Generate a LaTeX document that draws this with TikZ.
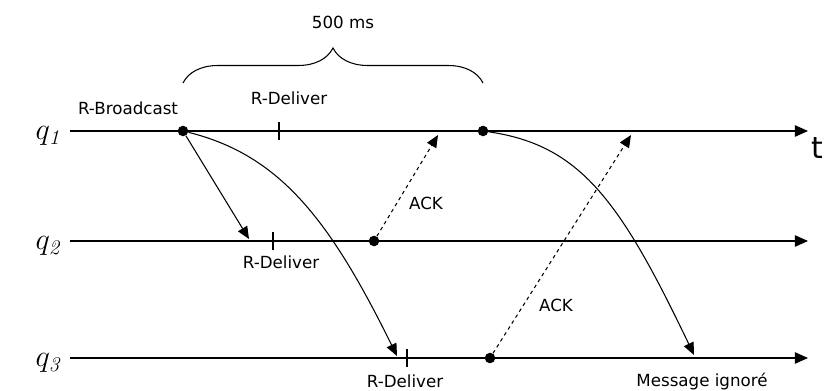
\documentclass[tikz,border=0pt]{standalone}
\usepackage{fontspec}
\setsansfont{DejaVu Sans}
\usepackage{tikz}
\usetikzlibrary{arrows.meta, decorations.pathreplacing}
\tikzset{
    time_line/.style={
        -{Triangle[length=7.5pt, width=6.5pt]}, draw=black, line width=0.8pt
    },
    msg_arrow/.style={
        -{Triangle[length=7pt, width=6pt]}, draw=black, line width=0.6pt
    },
    ack_arrow/.style={
        -{Triangle[length=7pt, width=6pt]}, draw=black, line width=0.6pt,
        dash pattern=on 2pt off 2pt
    },
    evt_dot/.style={
        circle, fill=black, inner sep=0pt, minimum size=6pt
    },
    tick_mark/.style={
        draw=black, line width=0.6pt
    },
    lbl/.style={
        font=\sffamily\fontsize{9.5}{11}\selectfont, text=black, inner sep=1pt
    },
    proc_lbl/.style={
        font=\fontsize{17}{19}\selectfont, inner sep=0pt
    }
}

\begin{document}
\begin{tikzpicture}[x=0.02cm, y=-0.02cm]
    \useasboundingbox (0,0) rectangle (824,391);

    % Process Lines
    \coordinate (s1) at (70,131);
    \coordinate (e1) at (808,131);
    \coordinate (s2) at (70,241);
    \coordinate (e2) at (808,241);
    \coordinate (s3) at (70,358);
    \coordinate (e3) at (808,358);
    \draw[time_line] (s1) -- (e1);
    \draw[time_line] (s2) -- (e2);
    \draw[time_line] (s3) -- (e3);

    \node[proc_lbl] (q1) at (48,136) {$q_{\mathit{1}}$};
    \node[proc_lbl] (q2) at (48,246) {$q_{\mathit{2}}$};
    \node[proc_lbl] (q3) at (48,363) {$q_{\mathit{3}}$};
    \node[font=\sffamily\fontsize{17}{19}\selectfont, anchor=west, inner sep=0pt] (t) at (811,148) {t};

    % Events
    \node[evt_dot] (bcast) at (183,131) {};
    \node[evt_dot] (resend) at (483,131) {};
    \node[evt_dot] (ack2) at (374,241) {};
    \node[evt_dot] (ack3) at (490,358) {};
    \coordinate (rcv2) at (249,239);
    \coordinate (rcv3) at (397,356);
    \coordinate (ackin1) at (438,135);
    \coordinate (ackin2) at (631,135);
    \coordinate (ignored) at (694,355);

    \draw[tick_mark] (279,122) -- (279,140);
    \draw[tick_mark] (273,232) -- (273,250);
    \draw[tick_mark] (407,349) -- (407,367);

    % Messages
    \draw[msg_arrow] (bcast) -- (rcv2);
    \draw[msg_arrow] (bcast) .. controls (280,155) and (330,220) .. (rcv3);
    \draw[msg_arrow] (resend) .. controls (580,145) and (620,200) .. (ignored);
    \draw[ack_arrow] (ack2) -- (ackin1);
    \draw[ack_arrow] (ack3) -- (ackin2);

    % Labels
    \node[lbl] (bc_lbl) at (128,108) {R-Broadcast};
    \node[lbl] (dlv1) at (289,98) {R-Deliver};
    \node[lbl] (dlv2) at (281,262) {R-Deliver};
    \node[lbl] (dlv3) at (405,381) {R-Deliver};
    \node[lbl] (ack_lbl1) at (426,203) {ACK};
    \node[lbl] (ack_lbl2) at (556,305) {ACK};
    \node[lbl] (ign_lbl) at (702,382) {Message ignoré};

    % Delay
    \coordinate (br_l) at (183,83);
    \coordinate (br_r) at (483,83);
    \draw[line width=0.6pt, decorate, decoration={brace, amplitude=0.7cm}] (br_l) -- (br_r);
    \node[lbl] (delay) at (343,22) {500 ms};
\end{tikzpicture}
\end{document}
